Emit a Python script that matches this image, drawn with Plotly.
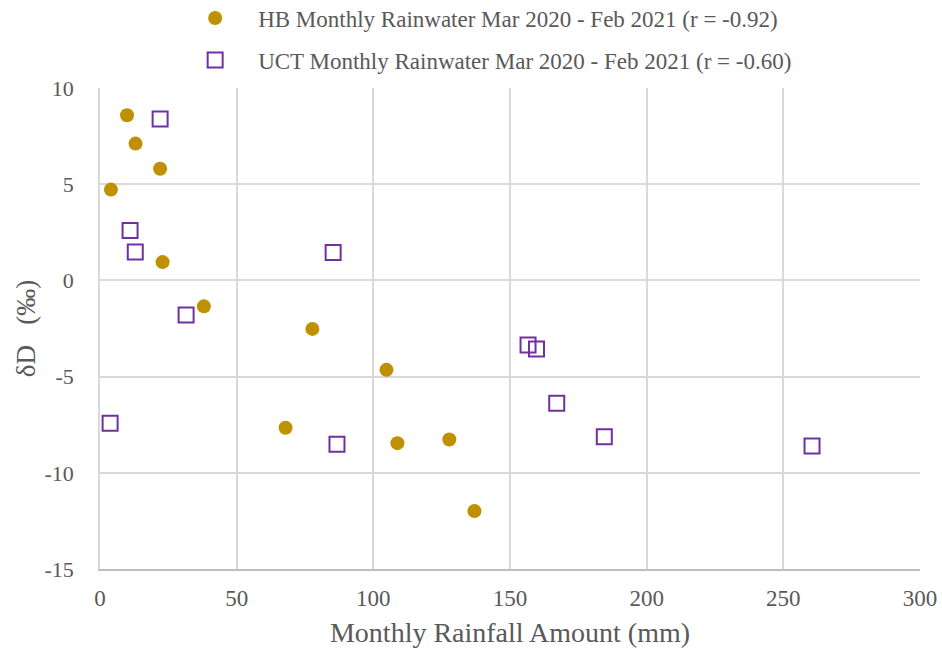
import plotly.graph_objects as go

hb_rain = [4.0, 9.9, 13.0, 22.0, 22.9, 38.0, 77.7, 104.8, 67.9, 108.8, 127.8, 137.0]
hb_dD = [4.72, 8.58, 7.11, 5.80, 0.95, -1.35, -2.52, -4.65, -7.66, -8.46, -8.27, -11.99]

uct_rain = [22.0, 11.0, 12.9, 31.5, 85.3, 3.7, 156.6, 159.7, 167.1, 86.7, 184.5, 260.5]
uct_dD = [8.39, 2.59, 1.47, -1.80, 1.45, -7.42, -3.36, -3.56, -6.38, -8.51, -8.13, -8.61]

hb_name = "HB Monthly Rainwater Mar 2020 - Feb 2021 (r = -0.92)"
uct_name = "UCT Monthly Rainwater Mar 2020 - Feb 2021 (r = -0.60)"

x_ticks = [0, 50, 100, 150, 200, 250, 300]
y_ticks = [-15, -10, -5, 0, 5, 10]

font_family = "'Liberation Serif', 'Times New Roman', 'DejaVu Serif', serif"
text_color = "#595959"
grid_color = "#D9D9D9"

fig = go.Figure()
fig.add_trace(go.Scatter(
    x=hb_rain, y=hb_dD, mode="markers", name=hb_name, legendgroup="hb",
    marker=dict(symbol="circle", size=14, color="#BF9000",
                line=dict(color="#BF9000", width=0)),
))
fig.add_trace(go.Scatter(
    x=uct_rain, y=uct_dD, mode="markers", name=uct_name, legendgroup="uct",
    marker=dict(symbol="square-open", size=15, color="#7030A0",
                line=dict(color="#7030A0", width=2)),
))

fig.update_layout(
    width=942, height=656,
    margin=dict(l=100, r=22, t=88, b=87, autoexpand=False),
    paper_bgcolor="white", plot_bgcolor="white",
    font=dict(family=font_family, size=22, color=text_color),
    legend=dict(
        x=0.088, y=1.19, xanchor="left", yanchor="top",
        orientation="v", traceorder="grouped", tracegroupgap=9,
        itemwidth=76,
        font=dict(family=font_family, size=23, color=text_color),
        bgcolor="rgba(0,0,0,0)",
    ),
    showlegend=True,
)
fig.update_xaxes(
    range=[0, 300], tickvals=x_ticks, ticktext=[str(v) for v in x_ticks],
    showgrid=True, gridcolor=grid_color, gridwidth=1.5,
    showline=True, linecolor="#BFBFBF", linewidth=1.5,
    zeroline=False, ticks="", ticklabelstandoff=8,
    tickfont=dict(family=font_family, size=23, color=text_color),
    title=dict(text="Monthly Rainfall Amount (mm)", font=dict(family=font_family, size=28, color=text_color), standoff=12),
)
fig.update_yaxes(
    range=[-15, 10], tickvals=y_ticks, ticktext=[str(v) for v in y_ticks],
    showgrid=True, gridcolor=grid_color, gridwidth=1.5,
    showline=True, linecolor=grid_color, linewidth=1.5,
    zeroline=False, ticks="", ticklabelstandoff=20,
    tickfont=dict(family=font_family, size=22, color=text_color),
    title=dict(text="δD\u00a0\u00a0\u00a0(‰)", font=dict(family=font_family, size=27, color=text_color), standoff=1),
)

fig.write_html("out.html")
